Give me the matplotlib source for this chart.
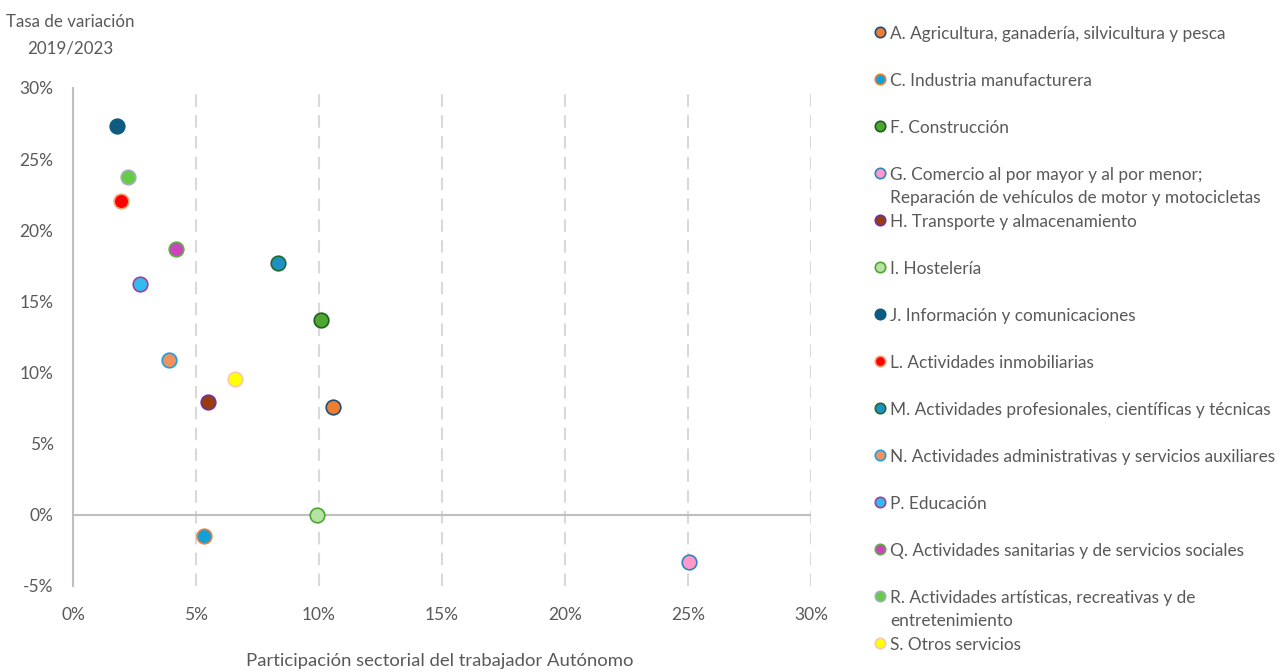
import matplotlib
matplotlib.use("Agg")
import matplotlib.pyplot as plt
from matplotlib.lines import Line2D
from matplotlib.ticker import FuncFormatter

plt.rcParams['font.family'] = ['Lato', 'DejaVu Sans']

labels = [
    "A. Agricultura, ganadería, silvicultura y pesca",
    "C. Industria manufacturera",
    "F. Construcción",
    "G. Comercio al por mayor y al por menor;\nReparación de vehículos de motor y motocicletas",
    "H. Transporte y almacenamiento",
    "I. Hostelería",
    "J. Información y comunicaciones",
    "L. Actividades inmobiliarias",
    "M. Actividades profesionales, científicas y técnicas",
    "N. Actividades administrativas y servicios auxiliares",
    "P. Educación",
    "Q. Actividades sanitarias y de servicios sociales",
    "R. Actividades artísticas, recreativas y de\nentretenimiento",
    "S. Otros servicios",
]
participacion = [10.58, 5.34, 10.08, 25.05, 5.50, 9.93, 1.79, 1.95, 8.33, 3.89, 2.74, 4.17, 2.25, 6.60]
variacion = [7.61, -1.52, 13.70, -3.28, 7.94, 0.0, 27.36, 22.07, 17.71, 10.85, 16.23, 18.67, 23.75, 9.56]
fill_colors = ["#ED7D31", "#12A0DA", "#4EA72E", "#FF99CC", "#993D0F", "#B6E3A3", "#0E5A80",
               "#FF0000", "#1E90C3", "#F0915E", "#33BBEE", "#CC44BB", "#66CC44", "#FFFF00"]
edge_colors = ["#1F4E79", "#ED7D31", "#1E5E20", "#2E86C1", "#7030A0", "#4EA72E", "#0E5A80",
               "#F4A070", "#1E6B30", "#1BA1E2", "#A040A0", "#5CB040", "#A0B0C0", "#F8C8B0"]

x_ticks = [0, 5, 10, 15, 20, 25, 30]
y_ticks = [-5, 0, 5, 10, 15, 20, 25, 30]

W, H = 1284, 672
fig = plt.figure(figsize=(W / 100, H / 100), dpi=100)
ax = fig.add_axes([73 / W, 1 - 586 / H, (811 - 73) / W, (586 - 88) / H])

text_color = "#595959"
for x in x_ticks[1:]:
    ax.axvline(x, color="#D9D9D9", lw=1.5, ls=(0, (6, 4)), zorder=1)
ax.axhline(0, color="#BFBFBF", lw=1.5, zorder=2)

for xi, yi, fc, ec in zip(participacion, variacion, fill_colors, edge_colors):
    ax.plot([xi], [yi], marker="o", ms=10.5, mfc=fc, mec=ec, mew=1.2, ls="none", zorder=5)

ax.set_xlim(0, 30)
ax.set_ylim(-5, 30)
ax.set_xticks(x_ticks)
ax.set_yticks(y_ticks)
pct = FuncFormatter(lambda v, p: f"{v:.0f}%")
ax.xaxis.set_major_formatter(pct)
ax.yaxis.set_major_formatter(pct)
ax.tick_params(axis="both", length=0, labelsize=12.5, colors=text_color)
ax.tick_params(axis="x", pad=15)
ax.tick_params(axis="y", pad=14)
for s in ["top", "right", "bottom"]:
    ax.spines[s].set_visible(False)
ax.spines["left"].set_color("#BFBFBF")
ax.spines["left"].set_linewidth(1.5)
ax.patch.set_alpha(0)

fig.text(70 / W, 1 - 35 / H, "Tasa de variación\n2019/2023", ha="center", va="center",
         fontsize=12.2, color=text_color, linespacing=1.8)
fig.text(440 / W, 1 - 661 / H, "Participación sectorial del trabajador Autónomo", ha="center",
         va="center", fontsize=13.3, color=text_color)

# legend
for i, (lab, fc, ec) in enumerate(zip(labels, fill_colors, edge_colors)):
    y = 32 + 47 * i
    fig.add_artist(Line2D([880 / W], [1 - y / H], marker="o", ms=7.5, mfc=fc, mec=ec, mew=1.2,
                          ls="none", transform=fig.transFigure))
    fig.text(890 / W, 1 - (y - 6) / H, lab, ha="left", va="top", fontsize=12.4,
             color=text_color, linespacing=1.55)

fig.savefig("out.png", dpi=100)
